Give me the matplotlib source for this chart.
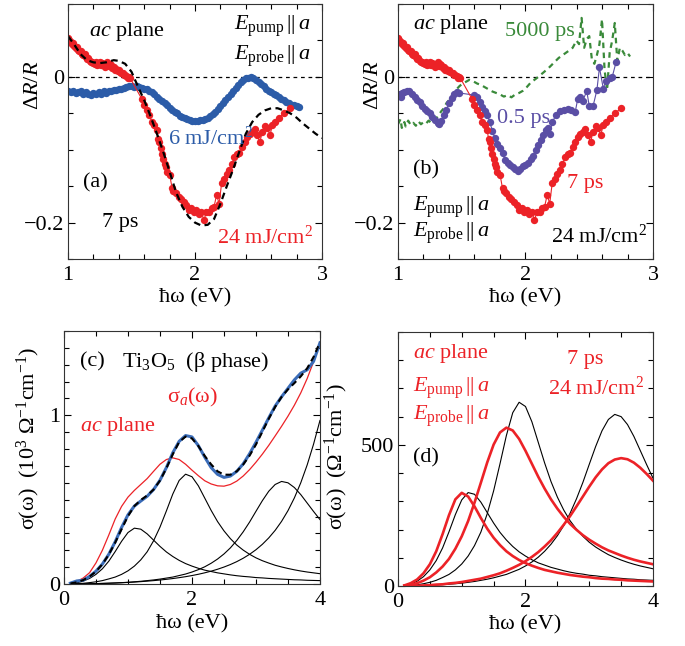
import matplotlib
matplotlib.use("Agg")
import matplotlib.pyplot as plt
from matplotlib.ticker import MultipleLocator, FuncFormatter

plt.rcParams['font.family'] = ['Liberation Serif', 'DejaVu Serif']
plt.rcParams['font.size'] = 16
plt.rcParams['mathtext.fontset'] = 'custom'
plt.rcParams['mathtext.rm'] = 'Liberation Serif'
plt.rcParams['mathtext.it'] = 'Liberation Serif:italic'
plt.rcParams['mathtext.bf'] = 'Liberation Serif:bold'

RED = '#ec2227'
BLUE = '#2c5ca8'
PURPLE = '#5a4ea5'
GREEN = '#3a8a3a'

### (a), (b): transient reflectivity, 7 ps, 24 mJ/cm2 (same data in both panels)
e_7ps = [1.00, 1.01, 1.02, 1.03, 1.04, 1.05, 1.06, 1.07, 1.08, 1.09,
         1.10, 1.11, 1.12, 1.13, 1.14, 1.15, 1.16, 1.17, 1.18, 1.19,
         1.20, 1.21, 1.22, 1.23, 1.24, 1.25, 1.26, 1.27, 1.28, 1.29,
         1.30, 1.31, 1.32, 1.33, 1.34, 1.35, 1.36, 1.37, 1.38, 1.39,
         1.40, 1.41, 1.42, 1.43, 1.44, 1.45, 1.46, 1.47, 1.48, 1.49,
         1.58, 1.60, 1.62, 1.64, 1.66, 1.68, 1.70, 1.71, 1.72, 1.73,
         1.74, 1.75, 1.76, 1.77, 1.78, 1.80, 1.82, 1.83, 1.85, 1.87,
         1.89, 1.91, 1.93, 1.95, 1.97, 1.99, 2.01, 2.03, 2.05, 2.07,
         2.09, 2.11, 2.13, 2.15, 2.17, 2.19, 2.21, 2.23, 2.25, 2.27,
         2.29, 2.31, 2.33, 2.35, 2.37, 2.39, 2.41, 2.43, 2.45, 2.47,
         2.49, 2.51, 2.53, 2.55, 2.57, 2.59, 2.61, 2.63, 2.66, 2.70, 2.75]
dr_7ps = [0.053, 0.050, 0.048, 0.045, 0.046, 0.042, 0.040, 0.041, 0.037, 0.035,
          0.036, 0.032, 0.030, 0.031, 0.027, 0.025, 0.026, 0.022, 0.020, 0.021,
          0.019, 0.018, 0.020, 0.017, 0.018, 0.021, 0.016, 0.019, 0.018, 0.014,
          0.017, 0.020, 0.015, 0.018, 0.016, 0.012, 0.014, 0.010, 0.011, 0.008,
          0.010, 0.007, 0.005, 0.006, 0.003, 0.002, 0.001, -0.001, 0.000, -0.002,
          -0.030, -0.038, -0.045, -0.052, -0.062, -0.066, -0.073, -0.085, -0.090, -0.098,
          -0.106, -0.112, -0.120, -0.124, -0.130, -0.134, -0.153, -0.157, -0.160, -0.165,
          -0.168, -0.172, -0.176, -0.182, -0.180, -0.185, -0.183, -0.188, -0.185, -0.197,
          -0.185, -0.186, -0.180, -0.178, -0.162, -0.174, -0.145, -0.140, -0.133, -0.128,
          -0.120, -0.110, -0.106, -0.104, -0.096, -0.090, -0.083, -0.078, -0.075, -0.072,
          -0.080, -0.090, -0.075, -0.068, -0.070, -0.080, -0.066, -0.062, -0.056, -0.050, -0.043]

# (a) 6 mJ/cm2, 7 ps
e_6mj = [1.00 + 0.02 * i for i in range(92)]
dr_6mj = [-0.020, -0.021, -0.019, -0.022, -0.021, -0.020, -0.023, -0.021, -0.024, -0.025,
          -0.022, -0.024, -0.021, -0.023, -0.020, -0.022, -0.019, -0.020, -0.018, -0.018,
          -0.017, -0.016, -0.015, -0.014, -0.013, -0.012, -0.014, -0.013, -0.014, -0.015,
          -0.016, -0.017, -0.019, -0.021, -0.024, -0.027, -0.030, -0.033, -0.036, -0.039,
          -0.042, -0.045, -0.048, -0.050, -0.053, -0.055, -0.057, -0.058, -0.059, -0.060,
          -0.060, -0.060, -0.059, -0.059, -0.058, -0.056, -0.054, -0.051, -0.048, -0.044,
          -0.040, -0.036, -0.032, -0.027, -0.023, -0.019, -0.015, -0.011, -0.007, -0.004,
          -0.002, -0.001, 0.000, -0.002, -0.004, -0.007, -0.010, -0.013, -0.016, -0.019,
          -0.021, -0.023, -0.025, -0.027, -0.030, -0.032, -0.034, -0.036, -0.038, -0.039,
          -0.040, -0.041]

# (a) calculated curve (dashed)
e_fit = [1.00, 1.05, 1.10, 1.15, 1.20, 1.25, 1.30, 1.36, 1.40, 1.45,
         1.50, 1.55, 1.60, 1.65, 1.70, 1.75, 1.80, 1.85, 1.90, 1.95,
         2.00, 2.05, 2.10, 2.15, 2.20, 2.25, 2.30, 2.35, 2.40, 2.45,
         2.50, 2.55, 2.60, 2.65, 2.70, 2.75, 2.80, 2.85, 2.90, 2.95, 3.00]
dr_fit = [0.056, 0.044, 0.031, 0.023, 0.020, 0.019, 0.020, 0.023, 0.022, 0.018,
          0.007, -0.013, -0.032, -0.054, -0.078, -0.103, -0.130, -0.158, -0.178, -0.192,
          -0.200, -0.204, -0.203, -0.195, -0.174, -0.150, -0.127, -0.102, -0.078, -0.062,
          -0.052, -0.046, -0.043, -0.043, -0.046, -0.050, -0.056, -0.064, -0.071, -0.078, -0.084]

# (b) 0.5 ps
e_05ps = [1.00, 1.02, 1.03, 1.05, 1.07, 1.09, 1.11, 1.13, 1.15, 1.17,
          1.19, 1.21, 1.23, 1.25, 1.27, 1.29, 1.31, 1.32, 1.34, 1.36,
          1.38, 1.40, 1.42, 1.44, 1.46, 1.48, 1.60, 1.62, 1.64, 1.66,
          1.68, 1.70, 1.72, 1.74, 1.76, 1.78, 1.80, 1.82, 1.84, 1.86,
          1.88, 1.90, 1.92, 1.94, 1.96, 1.98, 2.00, 2.02, 2.04, 2.06,
          2.08, 2.10, 2.12, 2.14, 2.16, 2.18, 2.19, 2.21, 2.24, 2.27,
          2.30, 2.33, 2.36, 2.39, 2.41, 2.43, 2.45, 2.48, 2.50, 2.53,
          2.56, 2.58, 2.61, 2.63, 2.66, 2.68, 2.71]
dr_05ps = [-0.024, -0.027, -0.022, -0.021, -0.019, -0.020, -0.024, -0.028, -0.032, -0.035,
           -0.040, -0.044, -0.047, -0.050, -0.055, -0.059, -0.063, -0.065, -0.060, -0.052,
           -0.045, -0.036, -0.029, -0.024, -0.021, -0.022, -0.025, -0.027, -0.034, -0.041,
           -0.047, -0.052, -0.062, -0.074, -0.084, -0.092, -0.098, -0.105, -0.114, -0.118,
           -0.121, -0.124, -0.127, -0.129, -0.126, -0.122, -0.121, -0.118, -0.113, -0.108,
           -0.100, -0.094, -0.087, -0.080, -0.073, -0.070, -0.078, -0.062, -0.052, -0.047,
           -0.046, -0.044, -0.045, -0.048, -0.030, -0.027, -0.033, -0.019, -0.040, -0.040,
           -0.018, 0.013, -0.016, -0.005, -0.002, 0.000, 0.020]

# (b) 5000 ps
e_5000ps = [1.00, 1.02, 1.03, 1.05, 1.06, 1.08, 1.10, 1.12, 1.14, 1.16,
            1.18, 1.20, 1.22, 1.24, 1.26, 1.28, 1.30, 1.32, 1.34, 1.36,
            1.38, 1.40, 1.42, 1.44, 1.46, 1.48, 1.50, 1.53, 1.56, 1.59,
            1.62, 1.65, 1.68, 1.71, 1.74, 1.77, 1.80, 1.83, 1.86, 1.89,
            1.92, 1.95, 1.98, 2.01, 2.04, 2.07, 2.10, 2.14, 2.18, 2.22,
            2.26, 2.30, 2.34, 2.37, 2.40, 2.42, 2.44, 2.46, 2.48, 2.50,
            2.52, 2.54, 2.56, 2.58, 2.60, 2.62, 2.64, 2.66, 2.68, 2.70,
            2.72, 2.74, 2.76, 2.78, 2.80, 2.82]
dr_5000ps = [-0.065, -0.058, -0.070, -0.062, -0.068, -0.060, -0.066, -0.063, -0.067, -0.061,
             -0.065, -0.062, -0.064, -0.060, -0.063, -0.060, -0.057, -0.052, -0.047, -0.043,
             -0.036, -0.032, -0.027, -0.022, -0.017, -0.013, -0.010, -0.007, -0.004, -0.006,
             -0.009, -0.011, -0.014, -0.017, -0.020, -0.022, -0.024, -0.027, -0.025, -0.028,
             -0.024, -0.022, -0.019, -0.014, -0.008, -0.004, 0.000, 0.006, 0.012, 0.019,
             0.026, 0.031, 0.036, 0.040, 0.050, 0.045, 0.081, 0.040, 0.052, 0.056,
             0.025, 0.018, 0.030, 0.045, 0.079, 0.010, -0.018, 0.033, 0.050, 0.074,
             0.022, 0.040, 0.036, 0.030, 0.033, 0.028]

### (c), (d): optical conductivity and Lorentz oscillators
e_sig = [0.1 * (i + 1) for i in range(40)]
# black oscillators (ground state), Ohm^-1 cm^-1
osc1 = [2, 7, 17, 33, 57, 90, 135, 192, 253, 305, 331, 325, 297, 260, 223, 190, 163, 140, 121, 106,
        93, 82, 74, 66, 60, 54, 49, 45, 42, 38, 36, 33, 31, 29, 27, 25, 24, 22, 21, 20]
osc2 = [0.5, 2, 4, 8, 13, 20, 30, 41, 57, 78, 106, 143, 191, 256, 337, 433, 533, 614, 651, 636,
        582, 509, 436, 370, 315, 269, 231, 201, 176, 155, 138, 124, 111, 101, 92, 84, 77, 71, 66, 61]
osc3 = [0.1, 0.4, 0.8, 1.4, 2.3, 3.3, 4.6, 6.2, 8, 10, 13, 16, 20, 24, 29, 35, 41, 50, 59, 71,
        85, 102, 123, 148, 178, 214, 258, 309, 367, 431, 494, 550, 590, 608, 600, 572, 530, 480, 430, 382]
osc4 = [0.1, 0.3, 0.8, 1.4, 2.2, 3.2, 4.4, 5.7, 7.4, 9.3, 11.5, 13.9, 16.8, 19.9, 23.5, 27.6, 32.2, 37.5, 43.3, 50.0,
        57.6, 66.3, 76.1, 87.4, 100.4, 115.3, 132.5, 152.6, 175.9, 203.1, 235.3, 273.3, 318.0, 371.3, 434.7, 510.3,
        600.0, 705.8, 829.2, 969.7]
# red oscillators (7 ps, 24 mJ/cm2)
osc1_ex = [2, 10, 23, 45, 77, 123, 184, 251, 307, 330, 317, 282, 241, 203, 171, 145, 123, 106, 92, 81,
           72, 64, 57, 52, 47, 43, 39, 36, 33, 31, 28, 26, 25, 23, 22, 20, 19, 18, 17, 16]
osc2_ex = [1, 4, 10, 19, 31, 48, 69, 96, 132, 176, 230, 295, 366, 438, 501, 544, 561, 551, 521, 479,
           433, 387, 345, 307, 274, 245, 220, 199, 180, 164, 150, 137, 126, 117, 108, 100, 93, 87, 82, 77]
osc3_ex = [0.1, 0.5, 1.1, 2, 3, 5, 6, 9, 11, 14, 18, 22, 26, 32, 38, 45, 54, 64, 75, 88,
           103, 120, 140, 162, 188, 217, 248, 282, 317, 352, 385, 413, 435, 448, 453, 449, 437, 419, 397, 373]

# (c) in 10^3 Ohm^-1 cm^-1
sig_meas = [0.005, 0.018, 0.022, 0.045, 0.076, 0.118, 0.176, 0.250, 0.335, 0.410,
            0.462, 0.492, 0.520, 0.560, 0.615, 0.690, 0.778, 0.846, 0.880, 0.872,
            0.820, 0.752, 0.690, 0.650, 0.632, 0.640, 0.668, 0.712, 0.772, 0.840,
            0.912, 0.985, 1.055, 1.110, 1.160, 1.210, 1.250, 1.270, 1.320, 1.430]
sig_fit = [0.003, 0.010, 0.023, 0.044, 0.074, 0.117, 0.174, 0.245, 0.325, 0.402,
           0.462, 0.498, 0.525, 0.560, 0.613, 0.686, 0.769, 0.842, 0.874, 0.863,
           0.818, 0.759, 0.709, 0.668, 0.648, 0.648, 0.668, 0.708, 0.761, 0.827,
           0.903, 0.980, 1.050, 1.109, 1.154, 1.191, 1.231, 1.279, 1.346, 1.433]
sig_ex = [0.003, 0.015, 0.035, 0.067, 0.125, 0.200, 0.290, 0.385, 0.460, 0.515,
          0.555, 0.590, 0.625, 0.668, 0.710, 0.738, 0.748, 0.738, 0.710, 0.675,
          0.642, 0.612, 0.593, 0.582, 0.580, 0.590, 0.610, 0.640, 0.678, 0.722,
          0.770, 0.822, 0.878, 0.935, 0.995, 1.060, 1.133, 1.218, 1.318, 1.430]

tick_fmt = FuncFormatter(lambda v, p: ('%g' % round(v, 6)).replace('-', '\u2212'))


def style(ax, xmaj, xmin, ymaj, ymin):
    ax.xaxis.set_major_locator(MultipleLocator(xmaj))
    ax.xaxis.set_minor_locator(MultipleLocator(xmin))
    ax.yaxis.set_major_locator(MultipleLocator(ymaj))
    ax.yaxis.set_minor_locator(MultipleLocator(ymin))
    ax.xaxis.set_major_formatter(tick_fmt)
    ax.yaxis.set_major_formatter(tick_fmt)
    ax.tick_params(which='both', direction='in', top=True, right=True, labelsize=16)
    ax.tick_params(axis='x', pad=5)
    ax.tick_params(axis='y', pad=3)
    ax.tick_params(which='major', length=5, width=0.8)
    ax.tick_params(which='minor', length=3.5, width=0.8)
    for s in ax.spines.values():
        s.set_linewidth(0.8)
        s.set_color('#333333')


fig = plt.figure(figsize=(6.85, 6.46), dpi=100)
ax_a = fig.add_axes([0.0993, 0.599, 0.3708, 0.3947])
ax_b = fig.add_axes([0.581, 0.599, 0.3723, 0.3947])
ax_c = fig.add_axes([0.0934, 0.096, 0.3737, 0.3916])
ax_d = fig.add_axes([0.581, 0.0929, 0.3723, 0.3932])

## (a)
ax = ax_a
ax.axhline(0, color='k', lw=0.9, ls=(0, (3, 3)))
ax.plot(e_6mj, dr_6mj, 'o', color=BLUE, ms=5.3, mew=0)
ax.plot(e_7ps, dr_7ps, '-o', color=RED, lw=0.8, ms=5.3, mew=0)
ax.plot(e_fit, dr_fit, color='k', lw=1.6, ls=(0, (3, 2)))
ax.set_xlim(1, 3)
ax.set_ylim(-0.25, 0.1)
style(ax, 1, 0.2, 0.2, 0.05)
ax.set_xlabel('ħω (eV)')
ax.set_ylabel(r'Δ$R$/$R$')
ax.xaxis.set_label_coords(0.5, -0.115)
ax.yaxis.set_label_coords(-0.098, 0.68)
ax.text(1.165, 0.062, r'$ac$ plane', va='center')
ax.text(2.905, 0.069, r'$E_{\mathrm{pump}}\,||\,a$', ha='right', va='center')
ax.text(2.905, 0.028, r'$E_{\mathrm{probe}}\,||\,a$', ha='right', va='center')
ax.text(1.79, -0.084, r'6 mJ/cm$^2$', color=BLUE, va='center')
ax.text(1.118, -0.145, '(a)', va='center')
ax.text(1.27, -0.2, '7 ps', va='center')
ax.text(2.17, -0.22, r'24 mJ/cm$^2$', color=RED, va='center')

## (b)
ax = ax_b
ax.axhline(0, color='k', lw=0.9, ls=(0, (3, 3)))
ax.plot(e_5000ps, dr_5000ps, color=GREEN, lw=1.6, ls=(0, (2.5, 2)))
ax.plot(e_05ps, dr_05ps, '-o', color=PURPLE, lw=0.8, ms=5.3, mew=0)
ax.plot(e_7ps, dr_7ps, '-o', color=RED, lw=0.8, ms=5.3, mew=0)
ax.set_xlim(1, 3)
ax.set_ylim(-0.25, 0.1)
style(ax, 1, 0.2, 0.2, 0.05)
ax.set_xlabel('ħω (eV)')
ax.set_ylabel(r'Δ$R$/$R$')
ax.xaxis.set_label_coords(0.5, -0.115)
ax.yaxis.set_label_coords(-0.059, 0.68)
ax.text(1.118, 0.072, r'$ac$ plane', va='center')
ax.text(1.84, 0.062, '5000 ps', color=GREEN, va='center')
ax.text(1.78, -0.057, '0.5 ps', color=PURPLE, va='center')
ax.text(1.118, -0.128, '(b)', va='center')
ax.text(2.325, -0.146, '7 ps', color=RED, va='center')
ax.text(1.118, -0.179, r'$E_{\mathrm{pump}}\,||\,a$', va='center')
ax.text(1.118, -0.215, r'$E_{\mathrm{probe}}\,||\,a$', va='center')
ax.text(2.953, -0.218, r'24 mJ/cm$^2$', ha='right', va='center')

## (c)
ax = ax_c
for osc in (osc1, osc2, osc3, osc4):
    ax.plot(e_sig, [v / 1000 for v in osc], color='k', lw=0.8)
ax.plot(e_sig, sig_ex, color=RED, lw=0.9)
ax.plot(e_sig, sig_meas, color='#3a6cb8', lw=2.2)
ax.plot(e_sig, sig_fit, color='k', lw=1.5, ls=(0, (3, 2)))
ax.set_xlim(0, 4)
ax.set_ylim(0, 1.5)
style(ax, 2, 0.5, 1, 0.1)
ax.set_xlabel('ħω (eV)')
ax.set_ylabel(r'σ(ω)  (10$^3$ Ω$^{-1}$cm$^{-1}$)')
ax.xaxis.set_label_coords(0.5, -0.12)
ax.yaxis.set_label_coords(-0.086, 0.577)
ax.text(0.25, 1.315, '(c)', va='center')
ax.text(0.906, 1.315, r'Ti$_3$O$_5$  (β phase)', va='center')
ax.text(1.61, 1.107, r'σ$_a$(ω)', color=RED, va='center')
ax.text(0.25, 0.935, r'$ac$ plane', color=RED, va='center')

## (d)
ax = ax_d
for osc in (osc1, osc2, osc3):
    ax.plot(e_sig, osc, color='k', lw=0.8)
for osc in (osc1_ex, osc2_ex, osc3_ex):
    ax.plot(e_sig, osc, color=RED, lw=1.9)
ax.set_xlim(0, 4)
ax.set_ylim(0, 900)
style(ax, 2, 0.5, 500, 100)
ax.set_xlabel('ħω (eV)')
ax.set_ylabel(r'σ(ω)  (Ω$^{-1}$cm$^{-1}$)')
ax.xaxis.set_label_coords(0.5, -0.115)
ax.yaxis.set_label_coords(-0.19, 0.51)
ax.text(0.235, 824, r'$ac$ plane', color=RED, va='center')
ax.text(0.235, 700, r'$E_{\mathrm{pump}}\,||\,a$', color=RED, va='center')
ax.text(0.235, 602, r'$E_{\mathrm{probe}}\,||\,a$', color=RED, va='center')
ax.text(0.235, 454, '(d)', va='center')
ax.text(2.93, 802, '7 ps', color=RED, ha='center', va='center')
ax.text(3.11, 700, r'24 mJ/cm$^2$', color=RED, ha='center', va='center')

fig.savefig('out.png', dpi=100)
